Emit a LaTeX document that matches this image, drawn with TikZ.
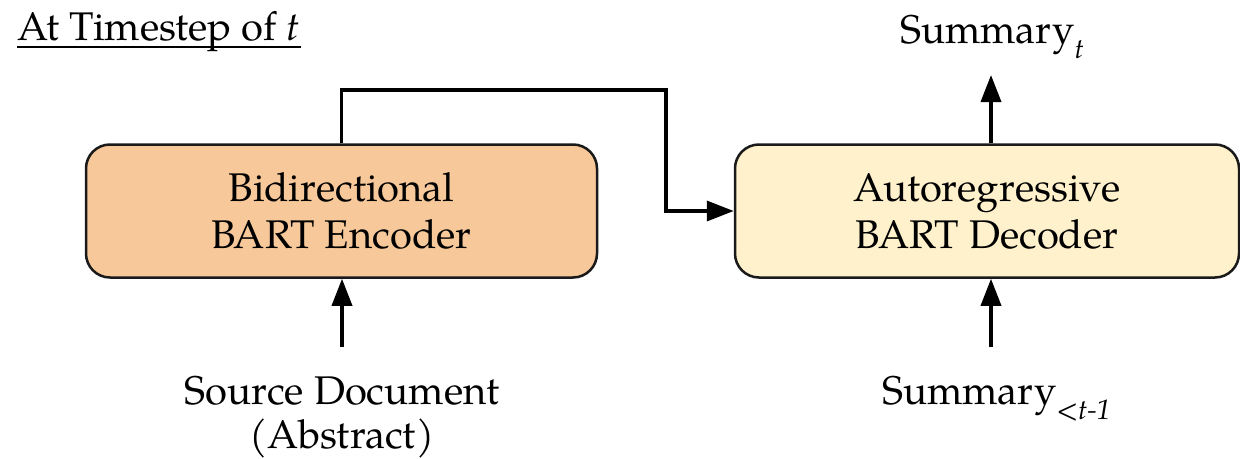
\documentclass[tikz,border=0pt]{standalone}
\usepackage{fontspec}
\setmainfont{TeX Gyre Pagella}
\usetikzlibrary{arrows.meta}
\definecolor{encfill}{HTML}{F7C899}
\definecolor{decfill}{HTML}{FEF1CB}
\definecolor{boxline}{HTML}{1A1A1A}
\newcommand\bigfont{\fontsize{40}{47}\selectfont}
\newcommand\subfont{\fontsize{28}{30}\selectfont}
\begin{document}
\begin{tikzpicture}[x=1pt,y=-1pt,
  box/.style={draw=boxline, line width=2.5pt, rounded corners=24pt,
    minimum height=133pt, align=center, font=\bigfont, inner sep=0pt},
  conn/.style={line width=3.5pt, -{Triangle[length=27pt,width=20pt]}},
  lbl/.style={font=\bigfont, inner sep=0pt}]
\useasboundingbox (0,0) rectangle (1240,458);
% boxes
\node[box, fill=encfill, minimum width=511pt] (enc) at (341.5,211) {Bidirectional\\BART Encoder};
\node[box, fill=decfill, minimum width=504pt] (dec) at (987,211) {Autoregressive\\BART Decoder};
% labels
\node[lbl, anchor=base west] (title) at (17,40) {At Timestep of \textit{t}};
\draw[line width=2.5pt] ([yshift=-7pt]title.base west) -- ([yshift=-7pt]title.base east);
\node[lbl, anchor=base west] (sumt) at (900,43) {Summary\raisebox{-15pt}{\subfont\itshape t}};
\node[lbl, anchor=base west] (sumprev) at (882,404) {Summary\raisebox{-15pt}{\subfont\itshape <t-1}};
\node[lbl, align=center, anchor=north, font=\fontsize{40}{44}\selectfont] (src) at (342,376) {Source Document\\(Abstract)};
% coordinates
\coordinate (srctail) at (342,347);
\coordinate (prevtail) at (991,347);
\coordinate (outtip) at (991,75);
\coordinate (bend) at (666,90);
% connectors
\draw[conn] (srctail) -- (srctail |- enc.south);
\draw[conn] (prevtail) -- (prevtail |- dec.south);
\draw[conn] (outtip |- dec.north) -- (outtip);
\draw[conn] (enc.north) |- (bend) |- (dec.west);
\end{tikzpicture}
\end{document}
